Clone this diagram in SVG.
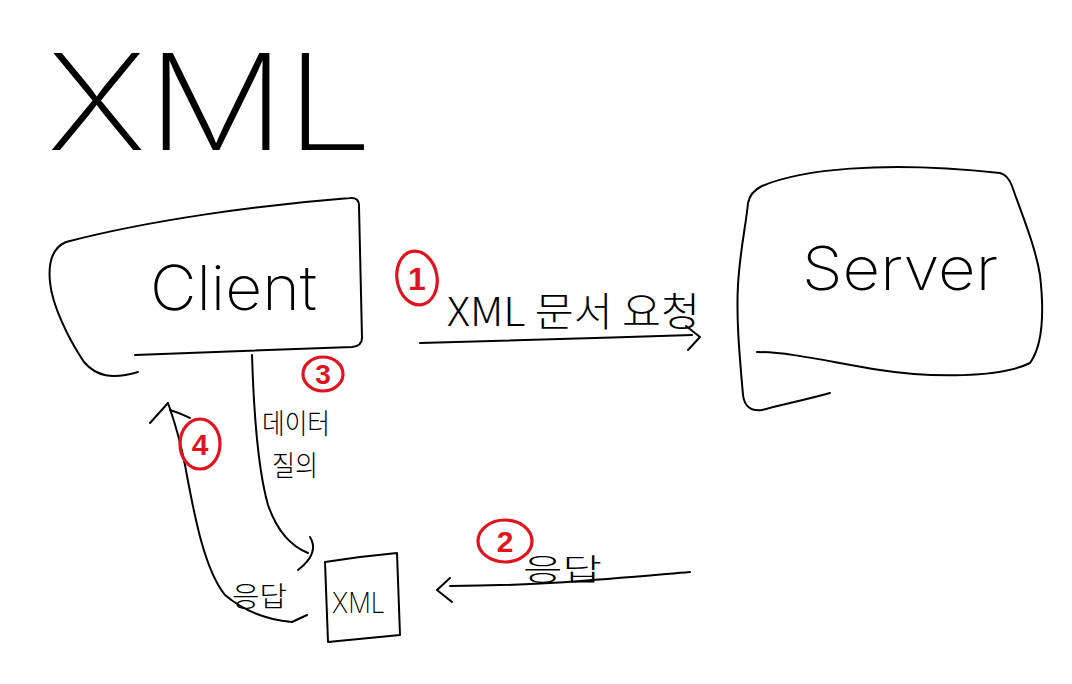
<svg xmlns="http://www.w3.org/2000/svg" width="1072" height="684" viewBox="0 0 1072 684">
<style>
.ink{fill:none;stroke:#000;stroke-width:2;stroke-linecap:round;stroke-linejoin:round}
.red{fill:none;stroke:#e0141e;stroke-width:3.2;stroke-linecap:round}
.num{font-family:"Liberation Sans",Arial,sans-serif;font-weight:700;fill:#e0141e;text-anchor:middle}
.hand{font-family:Inter,"Noto Sans","Noto Sans CJK KR",sans-serif;font-weight:200;fill:#000}
.kr{font-family:"Noto Sans CJK KR","Noto Sans",sans-serif;font-weight:300;fill:#000}
</style>
<rect width="1072" height="684" fill="#fff"/>
<g id="title">
<text class="hand" x="47" y="150" font-size="134" font-weight="100" textLength="326" lengthAdjust="spacingAndGlyphs">XML</text>
</g>
<g id="client">
<path class="ink" d="M138,372 C112,380 96,376 84,362 C68,338 52,305 50,282 C48,262 52,248 66,242 C150,220 260,205 350,198 Q359,197 359,206 L362,338 Q362,346 352,347 L135,355"/>
<text class="hand" x="150" y="310" font-size="62" textLength="167" lengthAdjust="spacingAndGlyphs">Client</text>
</g>
<g id="server">
<path class="ink" d="M830,393 C805,400 780,405 762,410 Q745,412 743,395 C740,360 736,320 738,285 C740,250 746,225 748,203 Q750,192 762,186 C800,170 880,160 1000,173 Q1008,175 1012,186 C1022,215 1035,245 1040,275 C1044,310 1043,345 1030,363 C1000,378 930,378 880,370 C830,362 790,352 757,352"/>
<text class="hand" x="802" y="290" font-size="60" textLength="196" lengthAdjust="spacingAndGlyphs">Server</text>
</g>
<g id="xml-doc">
<path class="ink" d="M325,562 C350,558 375,555 397,553 L400,635 L328,642 Z"/>
<text class="hand" x="332" y="613" font-size="28" textLength="53" lengthAdjust="spacingAndGlyphs">XML</text>
</g>
<g id="connectors">
<path class="ink" d="M420,343 C500,341 600,338 692,335"/>
<path class="ink" d="M686,326 L700,337 L688,350"/>
<path class="ink" d="M690,572 C620,578 540,586 450,586"/>
<path class="ink" d="M450,578 L437,590 L452,602"/>
<path class="ink" d="M252,355 C254,420 258,470 268,505 C276,528 288,545 308,553"/>
<path class="ink" d="M310,537 Q320,553 298,570"/>
<path class="ink" d="M307,615 L292,622 C270,620 245,612 225,595 C205,570 195,520 185,465 C178,430 172,415 168,403"/>
<path class="ink" d="M150,423 L168,403 M170,410 C180,413 185,416 190,418"/>
</g>
<g id="label-1">
<ellipse class="red" cx="417" cy="278" rx="20" ry="27" transform="rotate(-10 417 278)"/>
<text class="num" x="417" y="290" font-size="32">1</text>
<text class="kr" x="447" y="326" font-size="40" textLength="253" lengthAdjust="spacingAndGlyphs">XML 문서 요청</text>
</g>
<g id="label-2">
<ellipse class="red" cx="505" cy="541" rx="27" ry="21"/>
<text class="num" x="505" y="552" font-size="30">2</text>
<text class="kr" x="523" y="580" font-size="30" textLength="79" lengthAdjust="spacingAndGlyphs">응답</text>
</g>
<g id="label-3">
<ellipse class="red" cx="323" cy="374" rx="20" ry="17"/>
<text class="num" x="323" y="384" font-size="28">3</text>
<text class="kr" x="262" y="434" font-size="28" textLength="68" lengthAdjust="spacingAndGlyphs">데이터</text>
<text class="kr" x="272" y="476" font-size="28" textLength="46" lengthAdjust="spacingAndGlyphs">질의</text>
</g>
<g id="label-4">
<ellipse class="red" cx="200" cy="444" rx="20" ry="25"/>
<text class="num" x="200" y="455" font-size="30">4</text>
<text class="kr" x="232" y="607" font-size="28" textLength="55" lengthAdjust="spacingAndGlyphs">응답</text>
</g>
</svg>
